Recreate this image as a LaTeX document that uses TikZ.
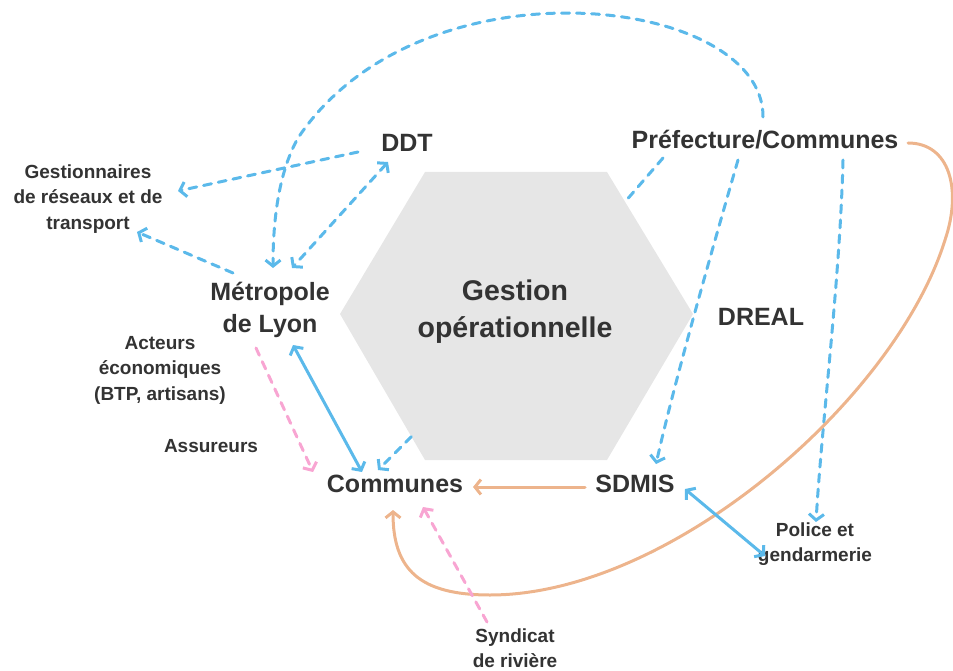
\documentclass[tikz,border=0pt]{standalone}
\usepackage{fontspec}
\setmainfont{Liberation Sans}
\usetikzlibrary{arrows.meta,calc}
\definecolor{txt}{HTML}{333333}
\definecolor{hexgray}{HTML}{E6E6E6}
\definecolor{lblue}{HTML}{5BB9EA}
\definecolor{lorange}{HTML}{EDB48C}
\definecolor{lpink}{HTML}{F8A5D2}
\begin{document}
\begin{tikzpicture}[x=1pt,y=-1pt,
  >={Straight Barb[length=6pt,width=15pt]},
  big/.style={text=txt,font=\fontsize{25}{32}\selectfont\bfseries,align=center,inner sep=0pt},
  small/.style={text=txt,font=\fontsize{19}{25.5}\selectfont\bfseries,align=center,inner sep=0pt},
  conn/.style={line width=3pt,line cap=round},
  bdash/.style={conn,draw=lblue,dash pattern=on 8pt off 7pt},
  bsolid/.style={conn,draw=lblue},
  osolid/.style={conn,draw=lorange},
  pdash/.style={conn,draw=lpink,dash pattern=on 8pt off 7pt}]
\useasboundingbox (0,0) rectangle (953,671);
% hexagon
\coordinate (hTL) at (425,172);
\coordinate (hTR) at (607,172);
\coordinate (hR) at (693,314);
\coordinate (hBR) at (607,460);
\coordinate (hBL) at (425,460);
\coordinate (hL) at (340,314);
\fill[hexgray] (hTL) -- (hTR) -- (hR) -- (hBR) -- (hBL) -- (hL) -- cycle;
\node[text=txt,font=\fontsize{28.5}{37}\selectfont\bfseries,align=center,inner sep=0pt] (gestion) at (515,312) {Gestion\\opérationnelle};
% nodes
\node[big] (ddt) at (407,143) {DDT};
\node[big] (pref) at (765,140) {Préfecture/Communes};
\node[big] (metro) at (270,310) {Métropole\\de Lyon};
\node[big] (communes) at (395,484) {Communes};
\node[big] (sdmis) at (635,484) {SDMIS};
\node[big] (dreal) at (761,317) {DREAL};
\node[small] (gest) at (88,199) {Gestionnaires\\de réseaux et de\\transport};
\node[small] (acteurs) at (160,370) {Acteurs\\économiques\\(BTP, artisans)};
\node[small] (assur) at (211,446) {Assureurs};
\node[small] (police) at (815,544) {Police et\\gendarmerie};
\node[small] (synd) at (515,648) {Syndicat\\de rivière};
% connectors
\draw[bdash,->] ($(ddt)+(-49,9)$) -- ($(gest)+(90,-8)$);
\draw[bdash,->] ($(metro)+(-37,-37)$) -- ($(gest)+(49,33)$);
\draw[bdash,<->] ($(ddt)+(-19,19)$) -- ($(metro)+(22,-42)$);
\draw[bdash,->] ($(pref)+(-2,-23)$) .. controls (764,-5) and (420,-45) .. (298,138)
   .. controls (280,170) and (273,215) .. ($(metro)+(3,-42)$);
\draw[bdash] ($(pref)+(-102,18)$) -- ($(hTR)!0.21!(hR)$);
\draw[bdash,->] ($(pref)+(-27,20)$) .. controls (712,250) and (675,380) .. ($(sdmis)+(21,-20)$);
\draw[bdash,->] ($(pref)+(78,20)$) .. controls (840,280) and (822,420) .. ($(police)+(1,-22)$);
\draw[osolid,->] ($(pref)+(143,3)$) .. controls (950,143) and (962,190) .. (945,240)
   .. controls (895,400) and (670,595) .. (490,595)
   .. controls (420,595) and (393,570) .. ($(communes)+(-2,26)$);
\draw[osolid,->] ($(sdmis)+(-50,3)$) -- ($(communes)+(78,3)$);
\draw[bsolid,<->] ($(sdmis)+(50,5)$) -- ($(police)+(-50,12)$);
\draw[bsolid,<->] ($(metro)+(23,35)$) -- ($(communes)+(-33,-12)$);
\draw[bdash,->] ($(hL)!0.84!(hBL)$) -- ($(communes)+(-17,-14)$);
\draw[pdash,->] ($(metro)+(-14,38)$) -- ($(communes)+(-82,-12)$);
\draw[pdash,->] ($(synd)+(-28,-26)$) -- ($(communes)+(28,23)$);
\end{tikzpicture}
\end{document}
